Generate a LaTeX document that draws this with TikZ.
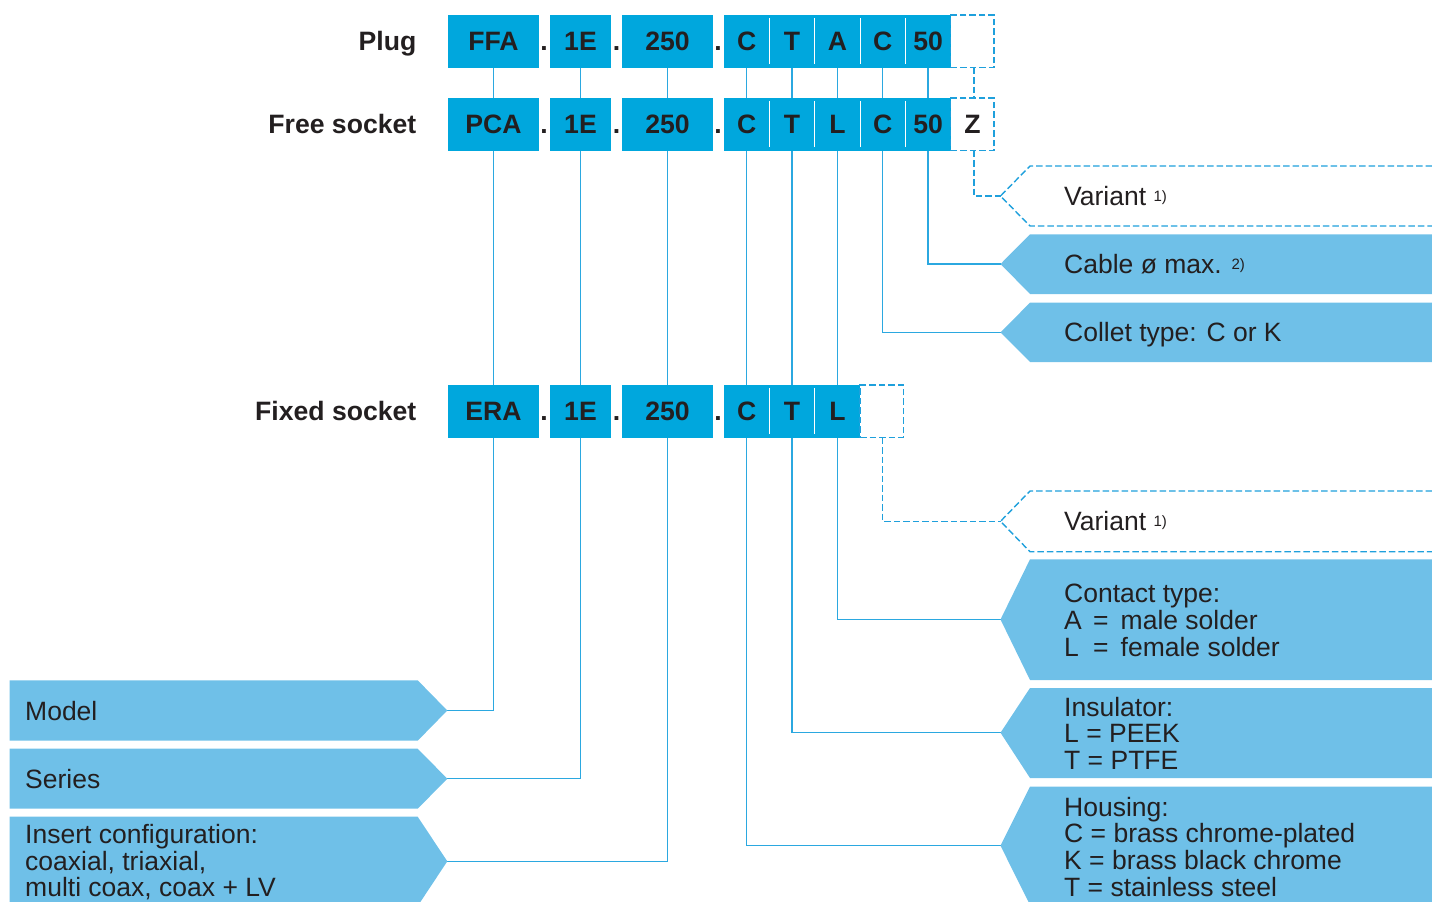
\documentclass[tikz,border=0pt]{standalone}
\usepackage{fontspec}
\setmainfont{Liberation Sans}
\usetikzlibrary{backgrounds}
\definecolor{codeblue}{HTML}{00A7DD}
\definecolor{descblue}{HTML}{6FC0E8}
\definecolor{linkblue}{HTML}{2BA8E0}
\definecolor{dashblue}{HTML}{1FA0DC}
\definecolor{ink}{HTML}{231F20}
\begin{document}
\begin{tikzpicture}[x=1pt,y=-1pt,
  code/.style={fill=codeblue, text=ink, font=\fontsize{26.6}{26.6}\selectfont\bfseries,
    minimum height=52.5, inner sep=0, outer sep=0, text height=19pt, text depth=0pt, anchor=west},
  codew/.style={code, minimum width=#1},
  vbox/.style={draw=dashblue, line width=1.4pt, dash pattern=on 6.5pt off 3pt, text=ink,
    font=\fontsize{26.6}{26.6}\selectfont\bfseries, minimum height=52.5, minimum width=43.3,
    inner sep=0, outer sep=0, text height=19pt, text depth=0pt, anchor=west},
  dotn/.style={text=ink, font=\fontsize{26.6}{26.6}\selectfont\bfseries, inner sep=0,
    text height=19pt, text depth=0pt},
  rowlabel/.style={text=ink, font=\fontsize{26.6}{26.6}\selectfont\bfseries, inner sep=0,
    text height=19pt, text depth=0pt, anchor=east},
  desctext/.style={text=ink, font=\fontsize{26.5}{26.6}\selectfont, inner sep=0, anchor=base west, align=left},
  sup/.style={},
  descfill/.style={fill=descblue},
  descdash/.style={draw=dashblue, line width=1.4pt, dash pattern=on 6.5pt off 3pt},
  link/.style={draw=linkblue, line width=1.2pt},
  linkdash/.style={draw=dashblue, line width=1.4pt, dash pattern=on 6.5pt off 3pt},
  divider/.style={draw=white, line width=1pt}
]
\useasboundingbox (0,0) rectangle (1432,902);
\clip (0,0) rectangle (1432,902);

% ---------- row labels ----------
\node[rowlabel] (lplug) at (416.5,41.3) {Plug};
\node[rowlabel] (lfree) at (416.5,124.3) {Free socket};
\node[rowlabel] (lfixed) at (416.5,411.3) {Fixed socket};

% ---------- row 1: plug ----------
\node[codew=91] (ffa) at (448,41.3) {FFA};
\node[dotn] (d1a) at (544,41.3) {.};
\node[codew=61] (oneEa) at (550,41.3) {1E};
\node[dotn] (d2a) at (616.5,41.3) {.};
\node[codew=91] (twoa) at (622,41.3) {250};
\node[dotn] (d3a) at (718,41.3) {.};
\node[codew=45.35] (ca) at (724,41.3) {C};
\node[codew=45.35] (ta) at (769.35,41.3) {T};
\node[codew=45.35] (aa) at (814.7,41.3) {A};
\node[codew=45.35] (cca) at (860.05,41.3) {C};
\node[codew=45.35] (fifa) at (905.4,41.3) {50};
\node[vbox] (vara) at (950.75,41.3) {};

% ---------- row 2: free socket ----------
\node[codew=91] (pca) at (448,124.3) {PCA};
\node[dotn] (d1b) at (544,124.3) {.};
\node[codew=61] (oneEb) at (550,124.3) {1E};
\node[dotn] (d2b) at (616.5,124.3) {.};
\node[codew=91] (twob) at (622,124.3) {250};
\node[dotn] (d3b) at (718,124.3) {.};
\node[codew=45.35] (cb) at (724,124.3) {C};
\node[codew=45.35] (tb) at (769.35,124.3) {T};
\node[codew=45.35] (lb) at (814.7,124.3) {L};
\node[codew=45.35] (ccb) at (860.05,124.3) {C};
\node[codew=45.35] (fifb) at (905.4,124.3) {50};
\node[vbox] (zb) at (950.75,124.3) {Z};

% ---------- row 3: fixed socket ----------
\node[codew=91] (era) at (448,411.3) {ERA};
\node[dotn] (d1c) at (544,411.3) {.};
\node[codew=61] (oneEc) at (550,411.3) {1E};
\node[dotn] (d2c) at (616.5,411.3) {.};
\node[codew=91] (twoc) at (622,411.3) {250};
\node[dotn] (d3c) at (718,411.3) {.};
\node[codew=45.35] (cc) at (724,411.3) {C};
\node[codew=45.35] (tc) at (769.35,411.3) {T};
\node[codew=45.35] (lc) at (814.7,411.3) {L};
\node[vbox] (varc) at (860.05,411.3) {};

% ---------- white dividers ----------
\foreach \n in {ta,aa,cca,fifa,tb,lb,ccb,fifb,tc,lc}{
  \draw[divider] ([yshift=-3.3pt]\n.north west) -- ([yshift=3.7pt]\n.south west);
}

% ---------- description boxes (right) ----------
\coordinate (vartipa) at (1000.5,196);
\draw[descdash] (1432,166) -- (1030,166) -- (vartipa) -- (1030,226) -- (1432,226);
\node[desctext] (tvara) at (1064,205.3) {Variant {\fontsize{15}{15}\selectfont\raisebox{4pt}{1)}}};

\coordinate (cabtip) at (1000.5,264);
\fill[descfill] (cabtip) -- (1030,234.3) -- (1432,234.3) -- (1432,294) -- (1030,294) -- cycle;
\node[desctext] (tcab) at (1064,273.3) {Cable ø max. {\fontsize{15}{15}\selectfont\raisebox{4pt}{2)}}};

\coordinate (colltip) at (1000.5,332.3);
\fill[descfill] (colltip) -- (1030,302.7) -- (1432,302.7) -- (1432,362) -- (1030,362) -- cycle;
\node[desctext] (tcoll) at (1064,341.6) {Collet type: C or K};

\coordinate (vartipb) at (1000.5,521.3);
\draw[descdash] (1432,491) -- (1030,491) -- (vartipb) -- (1030,551.7) -- (1432,551.7);
\node[desctext] (tvarb) at (1064,530.6) {Variant {\fontsize{15}{15}\selectfont\raisebox{4pt}{1)}}};

\coordinate (conttip) at (1000.5,619.5);
\fill[descfill] (conttip) -- (1030,559.3) -- (1432,559.3) -- (1432,680) -- (1030,680) -- cycle;
\node[desctext] (tcont) at (1064,656) {Contact type:\\\makebox[29pt][l]{A}\makebox[27.5pt][l]{=}male solder\\\makebox[29pt][l]{L}\makebox[27.5pt][l]{=}female solder};

\coordinate (instip) at (1000.5,732.7);
\fill[descfill] (instip) -- (1030,688) -- (1432,688) -- (1432,778) -- (1030,778) -- cycle;
\node[desctext] (tins) at (1064,769.3) {Insulator:\\L = PEEK\\T = PTFE};

\coordinate (houstip) at (1000.5,845.7);
\fill[descfill] (houstip) -- (1030,786.7) -- (1432,786.7) -- (1432,910) -- (1030,905) -- cycle;
\node[desctext] (thous) at (1064,896) {Housing:\\C = brass chrome-plated\\K = brass black chrome\\T = stainless steel};

% ---------- description boxes (left) ----------
\coordinate (modtip) at (447.3,710.5);
\fill[descfill] (9.5,680.3) -- (417.7,680.3) -- (modtip) -- (417.7,740.7) -- (9.5,740.7) -- cycle;
\node[desctext] (tmod) at (25,720.3) {Model};

\coordinate (sertip) at (447.3,778.7);
\fill[descfill] (9.5,748.7) -- (417.7,748.7) -- (sertip) -- (417.7,808.7) -- (9.5,808.7) -- cycle;
\node[desctext] (tser) at (25,788.2) {Series};

\coordinate (instip2) at (447.3,861.3);
\fill[descfill] (9.5,816.7) -- (417.7,816.7) -- (instip2) -- (417.7,906) -- (9.5,910) -- cycle;
\node[desctext] (tinsert) at (25,896.7) {Insert configuration:\\coaxial, triaxial,\\multi coax, coax + LV};

% ---------- connectors (behind boxes) ----------
\begin{scope}[on background layer]
  \draw[link] (ffa.south) |- (modtip);
  \draw[link] (oneEa.south) |- (sertip);
  \draw[link] (twoa.south) |- (instip2);
  \draw[link] (ca.south) |- (houstip);
  \draw[link] (ta.south) |- (instip);
  \draw[link] (aa.south) |- (conttip);
  \draw[link] (cca.south) |- (colltip);
  \draw[link] (fifa.south) |- (cabtip);
  \draw[linkdash] ([xshift=1.5pt]vara.south) -- ([xshift=1.5pt]zb.north);
  \draw[linkdash] ([xshift=1.5pt]zb.south) |- (vartipa);
  \draw[linkdash] ([xshift=0.8pt]varc.south) |- (vartipb);
\end{scope}
\end{tikzpicture}
\end{document}
